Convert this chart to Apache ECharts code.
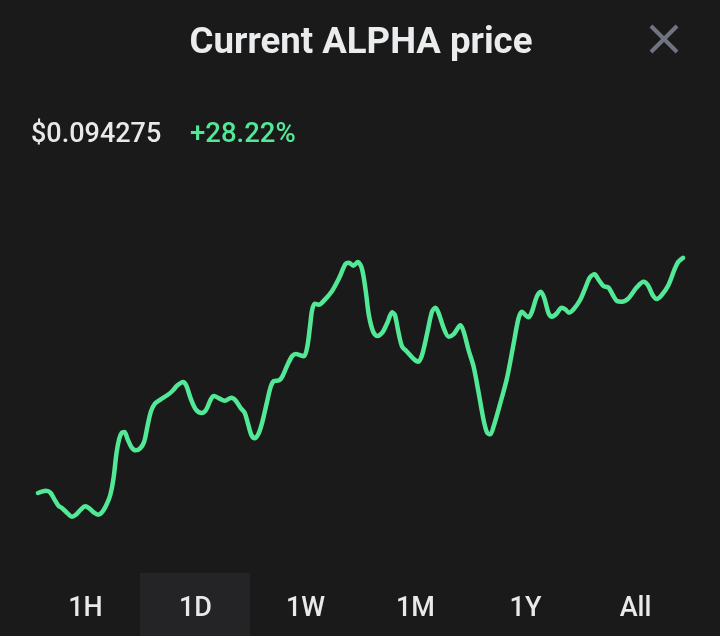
<!DOCTYPE html>
<html lang="en">
<head>
  <meta charset="UTF-8">
  <title>Current ALPHA price</title>
  <style>
    html, body{margin: 0; padding: 0; background: #1a1a1a}
    #chart{width: 720px; height: 636px}
  </style>
  <script src="https://cdn.jsdelivr.net/npm/echarts@6/dist/echarts.min.js"></script>
</head>
<body>
  <div id="chart"></div>
  <script>
    const titleText = 'Current ALPHA price';
    const priceText = '$0.094275';
    const changeText = '+28.22%';
    const ranges = ['1H', '1D', '1W', '1M', '1Y', 'All'];

    // hours since the start of the day
    const hours = [
      0, .14, .30, .46, .61, .76, .92, 1.10, 1.26, 1.41, 1.60, 1.75, 1.91, 2.09, 2.24, 2.40, 2.56, 2.69, 2.81, 2.92,
      3.02, 3.12, 3.22, 3.33, 3.48, 3.64, 3.80, 3.95, 4.07, 4.20, 4.35, 4.57, 4.82, 5.00, 5.19, 5.40, 5.52, 5.68, 5.87, 6.09,
      6.25, 6.43, 6.55, 6.74, 6.95, 7.20, 7.36, 7.54, 7.69, 7.81, 7.94, 8.06, 8.21, 8.35, 8.51, 8.66, 8.78, 8.97, 9.09, 9.28,
      9.46, 9.60, 9.89, 10.02, 10.12, 10.20, 10.30, 10.45, 10.64, 10.95, 11.20, 11.44, 11.57, 11.73, 11.90,
      12.05, 12.19, 12.31, 12.47, 12.62, 12.81, 12.99, 13.18, 13.28, 13.42, 13.55, 13.73, 13.98, 14.15, 14.29, 14.48, 14.66, 14.79, 14.91,
      15.10, 15.28, 15.47, 15.72, 15.84, 16.02, 16.21, 16.40, 16.58, 16.71, 16.83, 16.95, 17.20, 17.45, 17.70, 17.88, 18.01, 18.13, 18.25, 18.38,
      18.56, 18.71, 18.84, 19.00, 19.12, 19.28, 19.49, 19.62, 19.76, 19.93, 20.17, 20.36, 20.54, 20.71, 20.85, 21.04, 21.23, 21.39, 21.54, 21.72,
      21.97, 22.28, 22.53, 22.69, 22.87, 23.02, 23.21, 23.46, 23.70, 23.83, 24
    ];
    // price change from the start, in percent
    const changes = [
      0, .16, .28, .04, -.76, -1.52, -1.88, -2.44, -2.84, -2.60, -1.96, -1.60, -1.84, -2.36, -2.60, -2.24, -1.32, -.24, 1.76, 4.76,
      6.48, 7.24, 7.32, 6.48, 5.48, 5.12, 5.36, 6.16, 7.96, 9.76, 10.72, 11.24, 11.76, 12.24, 12.92, 13.32, 12.88, 11.36, 10.04, 9.60,
      9.96, 11.24, 11.64, 11.36, 11.08, 11.44, 11.08, 10.20, 9.64, 8.36, 6.96, 6.56, 7.16, 8.56, 10.76, 12.76, 13.44, 13.52, 13.96, 15.36,
      16.44, 16.68, 16.40, 17.56, 19.96, 21.96, 22.72, 22.60, 23.08, 24.28, 25.76, 27.48, 27.64, 27.28, 27.72,
      26.96, 24.36, 21.36, 19.36, 18.84, 19.24, 20.36, 21.68, 21.36, 19.16, 17.56, 16.96, 16.08, 15.76, 16.56, 19.16, 21.76, 22.24, 21.56,
      19.76, 18.76, 19.08, 20.12, 19.36, 17.16, 15.16, 11.96, 8.76, 7.24, 7.04, 7.96, 10.76, 13.76, 17.96, 20.96, 21.76, 21.36, 21.08, 21.76,
      23.56, 24.16, 23.36, 21.56, 21.16, 21.48, 22.24, 22.04, 21.64, 22.04, 23.16, 24.56, 25.88, 26.24, 25.64, 24.84, 24.64, 23.76, 23.04, 22.96,
      23.36, 24.68, 25.36, 24.96, 23.76, 23.28, 23.76, 24.96, 26.96, 27.76, 28.22
    ];

    const chart = echarts.init(document.getElementById('chart'));
    const font = 'Roboto, "Noto Sans", sans-serif';

    const rangeLabels = ranges.map((name, i) => ({
      type: 'text',
      x: 85.5 + 110 * i,
      y: 609,
      style: {
        text: name,
        fill: '#e8e9eb',
        font: '500 27px ' + font,
        align: 'center',
        verticalAlign: 'middle'
      }
    }));

    chart.setOption({
      animation: false,
      backgroundColor: '#1a1a1a',
      grid: {left: 38, right: 37, top: 243, height: 291.67},
      xAxis: {type: 'value', min: 0, max: 24, show: false},
      yAxis: {type: 'value', min: -5, max: 30, show: false},
      series: [{
        type: 'line',
        data: hours.map((h, i) => [h, changes[i]]),
        smooth: 0.3,
        showSymbol: false,
        lineStyle: {color: '#52e896', width: 4.5, cap: 'round', join: 'round'}
      }],
      graphic: [
        {
          type: 'rect',
          shape: {x: 140, y: 573, width: 110, height: 63},
          style: {fill: '#242427'}
        },
        {
          type: 'text', x: 361, y: 44,
          style: {text: titleText, fill: '#ebecee', font: '700 36.6px ' + font, align: 'center', verticalAlign: 'middle'}
        },
        {
          type: 'text', x: 31, y: 135,
          style: {text: priceText, fill: '#e8e9eb', font: '500 27px ' + font, align: 'left', verticalAlign: 'middle'}
        },
        {
          type: 'text', x: 190, y: 135,
          style: {text: changeText, fill: '#52e896', font: '500 27.5px ' + font, align: 'left', verticalAlign: 'middle'}
        },
        {
          type: 'line',
          shape: {x1: 651, y1: 26, x2: 677, y2: 52},
          style: {stroke: '#6f7480', lineWidth: 4}
        },
        {
          type: 'line',
          shape: {x1: 677, y1: 26, x2: 651, y2: 52},
          style: {stroke: '#6f7480', lineWidth: 4}
        }
      ].concat(rangeLabels)
    });
  </script>
</body>
</html>
